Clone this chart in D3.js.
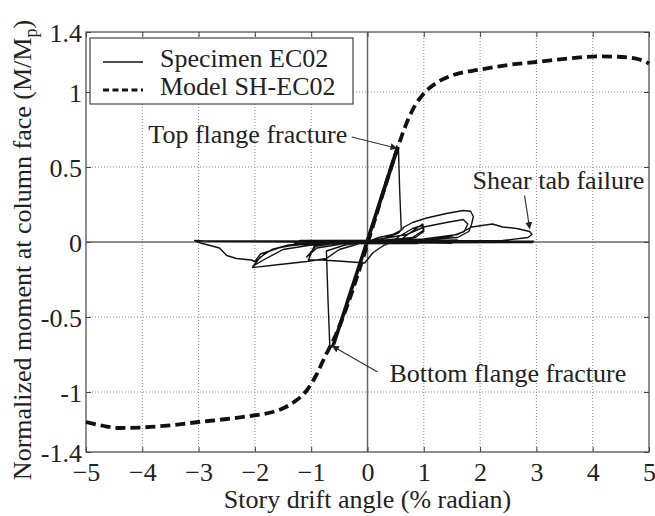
<!DOCTYPE html>
<html>
<head>
<meta charset="utf-8">
<script src="https://cdn.jsdelivr.net/npm/d3@7"></script>
<style>
  body { margin: 0; background: #fff; }
</style>
</head>
<body>
<svg id="chart" width="655" height="516"></svg>
<script>
// tick values
const xTicks = [-5, -4, -3, -2, -1, 0, 1, 2, 3, 4, 5];
const yTicks = [-1.4, -1, -0.5, 0, 0.5, 1, 1.4];
const xGrid = [-4, -3, -2, -1, 1, 2, 3, 4];
const yGrid = [-1, -0.5, 0.5, 1];

// Model SH-EC02 (dashed)
const model = [
  [-5, -1.2], [-4.7, -1.225], [-4.4, -1.24], [-4.05, -1.237], [-3.5, -1.222],
  [-3.0, -1.2], [-2.5, -1.18], [-2.0, -1.155], [-1.7, -1.135], [-1.45, -1.1],
  [-1.3, -1.065], [-1.08, -0.99], [-0.9, -0.88], [-0.75, -0.76], [-0.64, -0.68],
  [0.53, 0.62], [0.65, 0.75], [0.8, 0.88], [1.0, 0.99], [1.22, 1.06],
  [1.5, 1.11], [2.0, 1.15], [2.5, 1.18], [3.0, 1.2], [3.6, 1.225],
  [4.1, 1.237], [4.45, 1.235], [4.8, 1.22], [5.0, 1.19]
];

// Specimen EC02 (solid) in drawing order
const specimen = [
  [0, 0], [0.2, 0.23], [-0.2, -0.22], [0.22, 0.25], [-0.22, -0.24],
  [0.36, 0.42], [-0.36, -0.41], [0.38, 0.43], [-0.38, -0.40],
  [0.53, 0.63], [-0.55, -0.6], [0.51, 0.62], [-0.6, -0.66], [0.55, 0.63], [-0.62, -0.68],
  [0.49, 0.6], [-0.58, -0.68], [0.54, 0.61], [-0.63, -0.7], [0.52, 0.64], [-0.6, -0.69],
  [0.55, 0.62], [0.57, 0.36], [0.6, 0.08], [0.45, 0.05], [0.2, 0.03], [0, 0],
  [-0.3, -0.33], [-0.5, -0.55], [-0.64, -0.70], [-0.67, -0.69], [-0.7, -0.4], [-0.73, -0.06],
  [-0.4, -0.02], [0, 0], [0.5, 0.02], [0.62, 0.05], [0.8, 0.09], [0.97, 0.11],
  [1.0, 0.07], [0.85, 0.03], [0.5, 0.01], [0, 0],
  [-0.6, -0.01], [-0.95, -0.03], [-1.05, -0.12], [-0.8, -0.12], [-0.4, -0.13],
  [-0.05, -0.14], [0.1, -0.07], [0.3, -0.02], [0.57, 0.01], [0.75, 0.06], [0.98, 0.12],
  [1.0, 0.08], [0.8, 0.03], [0.3, 0.01], [-0.3, 0], [-0.9, -0.02], [-1.08, -0.1],
  [-0.9, -0.04], [-0.4, -0.01], [0.2, 0.01],
  [0.55, 0.06], [0.65, 0.1], [0.8, 0.13], [1.05, 0.16], [1.4, 0.19], [1.7, 0.21],
  [1.83, 0.205], [1.88, 0.17], [1.85, 0.12], [1.8, 0.07], [1.6, 0.03], [1.2, 0.02],
  [0.8, 0.01], [0, 0.005],
  [-0.5, -0.05], [-0.73, -0.11], [-1.08, -0.13], [-1.56, -0.15], [-2.04, -0.17],
  [-1.95, -0.12], [-1.8, -0.07], [-1.6, -0.04], [-1.3, -0.02], [-0.8, -0.01], [0, 0.005],
  [0.7, 0.05], [1.0, 0.1], [1.4, 0.13], [1.7, 0.15], [1.78, 0.12], [1.72, 0.07],
  [1.5, 0.04], [1.2, 0.02], [0.5, 0.01], [0, 0],
  [-1.0, -0.02], [-1.5, -0.05], [-1.85, -0.12], [-2.03, -0.16], [-1.9, -0.1],
  [-1.7, -0.05], [-1.4, -0.02], [-0.6, 0], [0, 0],
  [1.0, 0.02], [1.6, 0.05], [1.85, 0.1], [2.22, 0.12], [2.4, 0.1], [2.65, 0.09],
  [2.88, 0.07], [2.92, 0.05], [2.85, 0.03], [2.4, 0.01], [1.5, 0.005], [0.5, 0],
  [-1, 0], [-2, 0.003], [-2.8, 0.005], [-3.07, 0.01], [-2.98, -0.005], [-2.63, -0.04],
  [-2.5, -0.09], [-2.33, -0.11], [-2.06, -0.12], [-2.0, -0.13], [-1.9, -0.08],
  [-1.5, -0.03], [-1, -0.01], [0, 0], [1.5, 0.01], [2.95, 0.005],
  [-3.05, 0.008], [2.93, -0.004], [-1.3, -0.008], [1.6, 0.012], [-1.2, 0.01],
  [1.5, -0.008], [-0.9, 0.004], [1.2, 0.006], [-1.1, -0.012], [0.9, -0.01]
];

const legendItems = ["Specimen EC02", "Model SH-EC02"];

// annotation: text position, leader start, leader end (all in data units)
const notes = [
  { label: "Top flange fracture", anchor: "end", tx: -0.36, ty: 0.66, x1: -0.28, y1: 0.70, x2: 0.52, y2: 0.625 },
  { label: "Shear tab failure", anchor: "start", tx: 1.865, ty: 0.353, x1: 2.79, y1: 0.31, x2: 2.88, y2: 0.09 },
  { label: "Bottom flange fracture", anchor: "start", tx: 0.39, ty: -0.933, x1: 0.18, y1: -0.867, x2: -0.62, y2: -0.695 }
];

const svg = d3.select("#chart");
const x = d3.scaleLinear().domain([-5, 5]).range([86, 649]);
const y = d3.scaleLinear().domain([-1.4, 1.4]).range([452, 32]);
const fs = 26;

// grid
svg.append("g").selectAll("line").data(xGrid).enter().append("line")
  .attr("x1", d => x(d)).attr("x2", d => x(d))
  .attr("y1", y(1.4)).attr("y2", y(-1.4))
  .attr("stroke", "#888").attr("stroke-width", 1).attr("stroke-dasharray", "1,2");
svg.append("g").selectAll("line").data(yGrid).enter().append("line")
  .attr("y1", d => y(d)).attr("y2", d => y(d))
  .attr("x1", x(-5)).attr("x2", x(5))
  .attr("stroke", "#888").attr("stroke-width", 1).attr("stroke-dasharray", "1,2");

// zero lines
svg.append("line").attr("x1", x(0)).attr("x2", x(0)).attr("y1", y(1.4)).attr("y2", y(-1.4))
  .attr("stroke", "#666").attr("stroke-width", 1.5);
svg.append("line").attr("x1", x(-5)).attr("x2", x(5)).attr("y1", y(0)).attr("y2", y(0))
  .attr("stroke", "#666").attr("stroke-width", 1.5);

// axes with inward ticks
const axBottom = svg.append("g").attr("transform", `translate(0,${y(-1.4)})`)
  .call(d3.axisBottom(x).tickValues(xTicks).tickFormat(d3.format("d")).tickSizeInner(-5).tickSizeOuter(0));
const axTop = svg.append("g").attr("transform", `translate(0,${y(1.4)})`)
  .call(d3.axisTop(x).tickValues(xTicks).tickFormat("").tickSizeInner(-5).tickSizeOuter(0));
const axLeft = svg.append("g").attr("transform", `translate(${x(-5)},0)`)
  .call(d3.axisLeft(y).tickValues(yTicks).tickFormat(d => String(d)).tickSizeInner(-5).tickSizeOuter(0).tickPadding(4));
const axRight = svg.append("g").attr("transform", `translate(${x(5)},0)`)
  .call(d3.axisRight(y).tickValues(yTicks).tickFormat("").tickSizeInner(-5).tickSizeOuter(0));

[axBottom, axTop, axLeft, axRight].forEach(g => {
  g.attr("font-size", fs);
  g.select(".domain").remove();
  g.selectAll(".tick line").attr("stroke", "#444");
  g.selectAll("text").attr("fill", "#222");
});
axBottom.selectAll("text").attr("dy", 0).attr("y", 29);
axLeft.selectAll("text").attr("dy", "0.35em");

// plot frame
svg.append("rect").attr("x", x(-5)).attr("y", y(1.4))
  .attr("width", x(5) - x(-5)).attr("height", y(-1.4) - y(1.4))
  .attr("fill", "none").attr("stroke", "#444").attr("stroke-width", 1.2);

// curves
const line = d3.line().x(d => x(d[0])).y(d => y(d[1]));
svg.append("path").datum(specimen)
  .attr("d", line).attr("fill", "none").attr("stroke", "#111")
  .attr("stroke-width", 1.4).attr("stroke-linejoin", "round");
svg.append("path").datum(model)
  .attr("d", line.curve(d3.curveMonotoneX)).attr("fill", "none").attr("stroke", "#111")
  .attr("stroke-width", 3.8).attr("stroke-dasharray", "10,5");

// arrowheads
svg.append("defs").append("marker")
  .attr("id", "arrow").attr("viewBox", "0 0 10 10").attr("refX", 9).attr("refY", 5)
  .attr("markerWidth", 7).attr("markerHeight", 7).attr("markerUnits", "userSpaceOnUse")
  .attr("orient", "auto")
  .append("path").attr("d", "M0,0 L10,5 L0,10 Z").attr("fill", "#222");

// annotations
const ann = svg.append("g");
ann.selectAll("line").data(notes).enter().append("line")
  .attr("x1", d => x(d.x1)).attr("y1", d => y(d.y1))
  .attr("x2", d => x(d.x2)).attr("y2", d => y(d.y2))
  .attr("stroke", "#333").attr("stroke-width", 1.2).attr("marker-end", "url(#arrow)");
ann.selectAll("text").data(notes).enter().append("text")
  .attr("x", d => x(d.tx)).attr("y", d => y(d.ty))
  .attr("text-anchor", d => d.anchor).attr("font-size", fs).attr("fill", "#222")
  .text(d => d.label);

// legend
const lg = svg.append("g");
lg.append("rect").attr("x", 90).attr("y", 38).attr("width", 263).attr("height", 66)
  .attr("fill", "#fff").attr("stroke", "#444").attr("stroke-width", 1.2);
lg.selectAll("line").data(legendItems).enter().append("line")
  .attr("x1", 103).attr("x2", 143)
  .attr("y1", (d, i) => 62 + i * 28).attr("y2", (d, i) => 62 + i * 28)
  .attr("stroke", "#111")
  .attr("stroke-width", (d, i) => i ? 3 : 1.4)
  .attr("stroke-dasharray", (d, i) => i ? "6,3.5" : null);
lg.selectAll("text").data(legendItems).enter().append("text")
  .attr("x", 160).attr("y", (d, i) => 67 + i * 28)
  .attr("font-size", fs).attr("fill", "#222").text(d => d);

// axis titles
svg.append("text").attr("x", x(0)).attr("y", 508)
  .attr("text-anchor", "middle").attr("font-size", fs).attr("fill", "#222")
  .text("Story drift angle (% radian)");
const yl = svg.append("text").attr("transform", "translate(31,250) rotate(-90)")
  .attr("text-anchor", "middle").attr("font-size", fs).attr("fill", "#222");
yl.append("tspan").text("Normalized moment at column face (M/M");
yl.append("tspan").attr("dy", 6).attr("font-size", 18).text("p");
yl.append("tspan").attr("dy", -6).text(")");

// serif face everywhere
svg.selectAll("text").style("font-family", "\"Liberation Serif\"");
</script>
</body>
</html>
